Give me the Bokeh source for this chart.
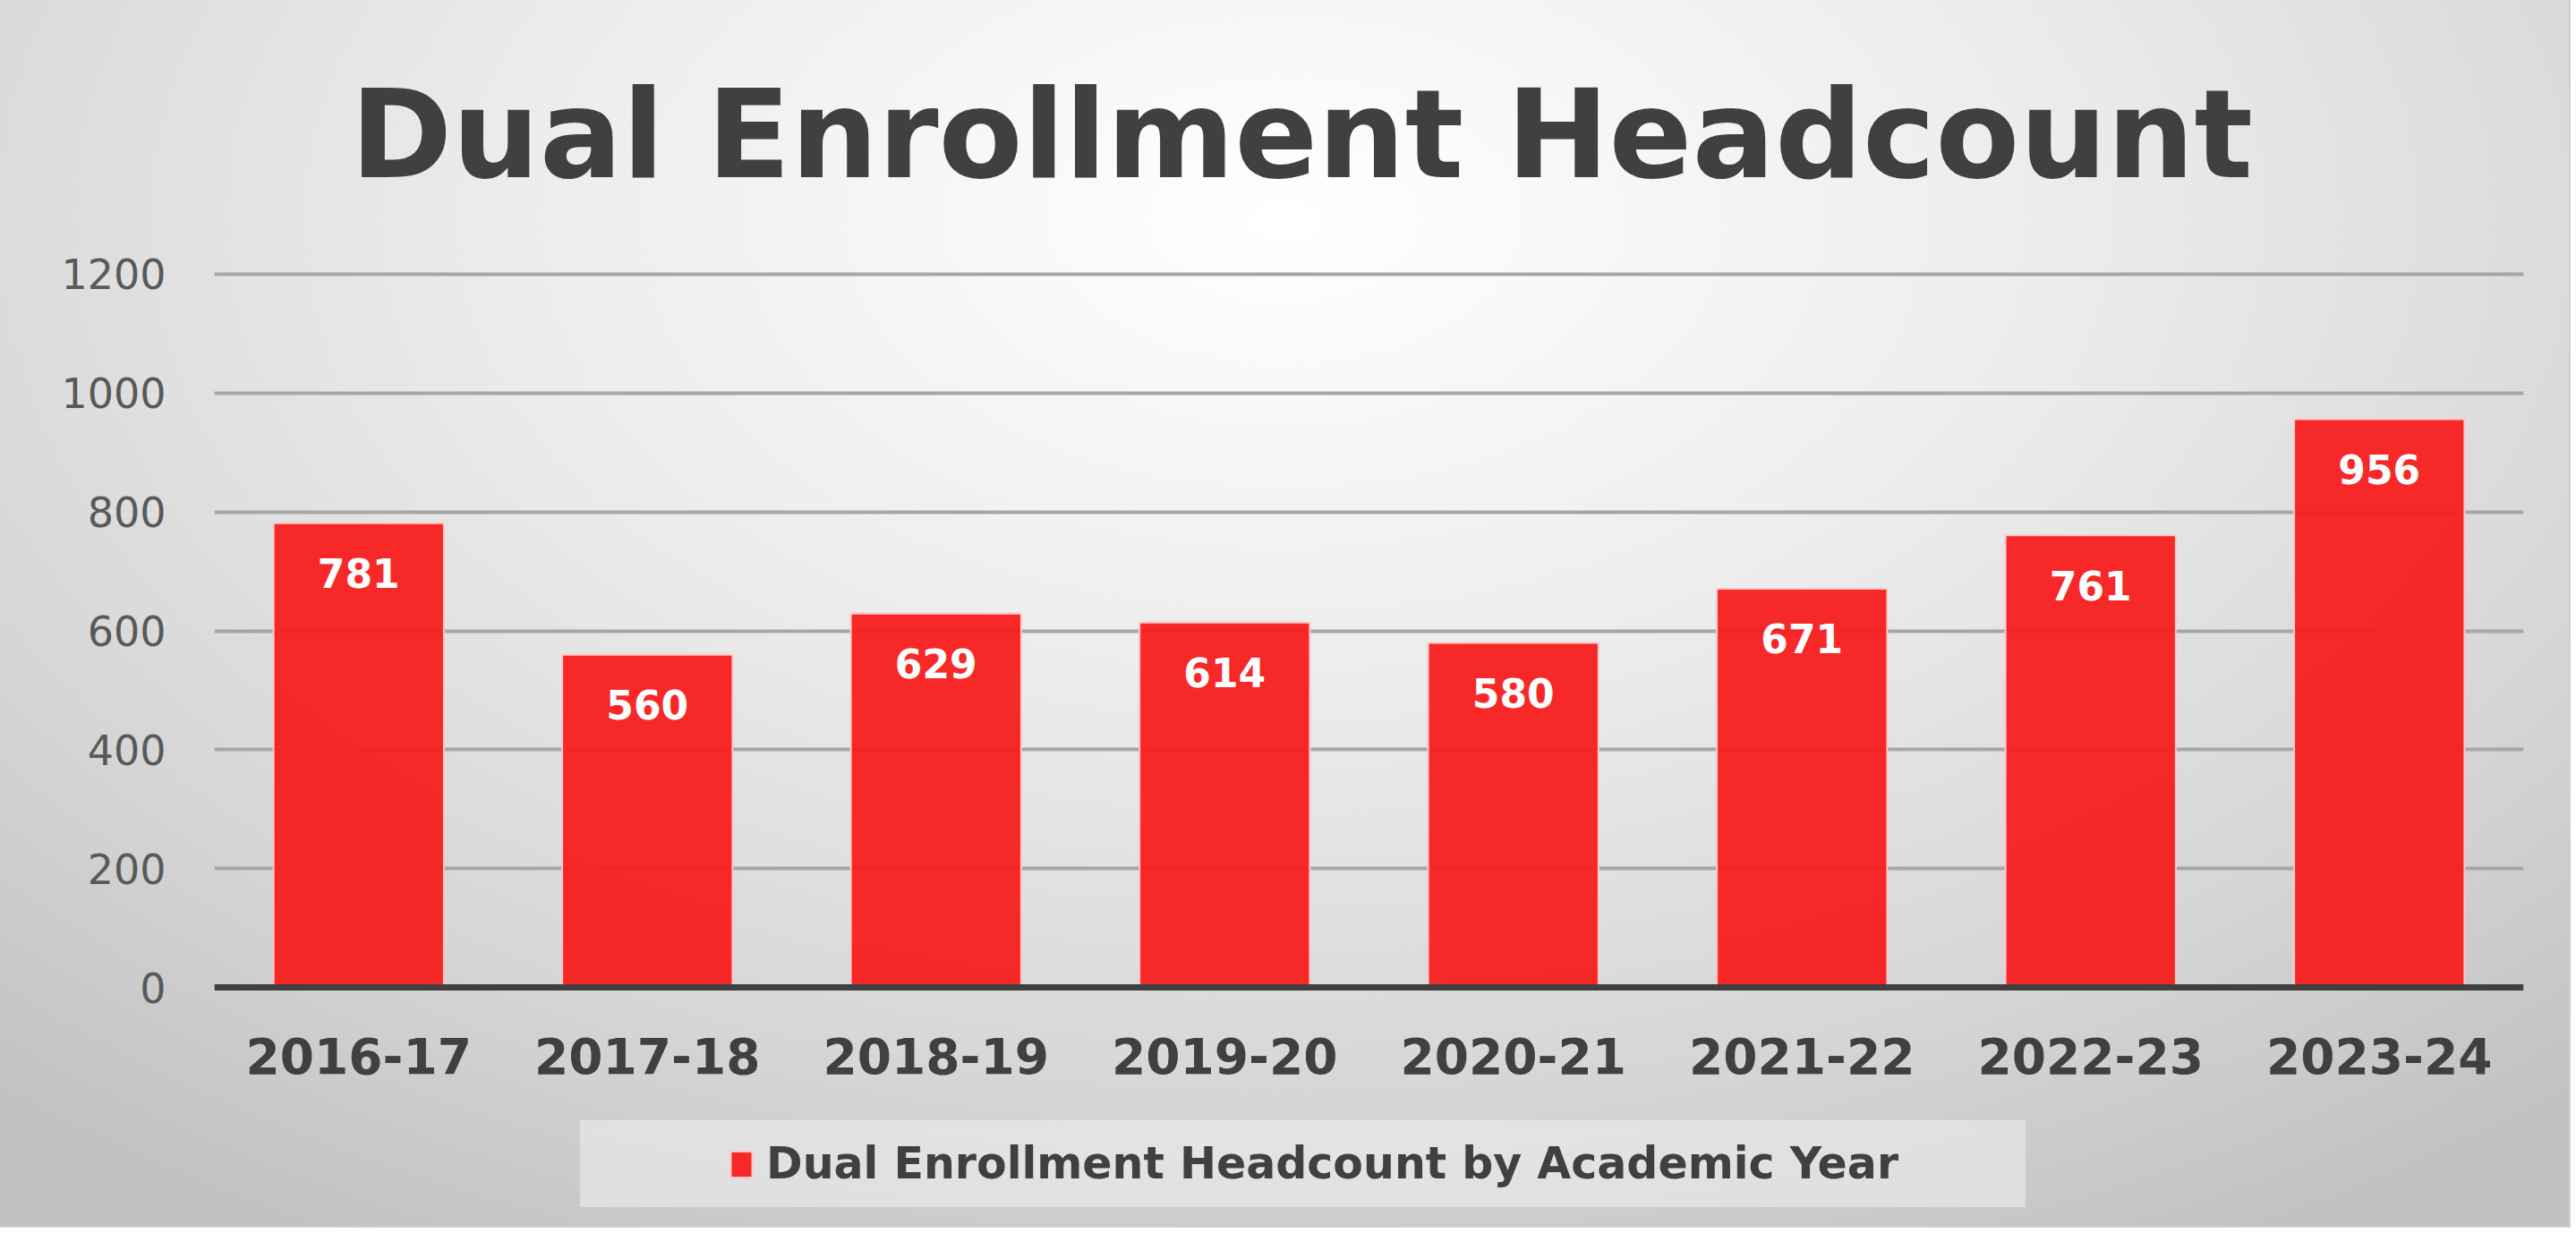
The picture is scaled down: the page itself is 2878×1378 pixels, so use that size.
from bokeh.plotting import figure
from bokeh.models import ColumnDataSource, FixedTicker, Legend, LegendItem
from bokeh.core.properties import value
from bokeh.embed import file_html
from bokeh.resources import INLINE

years = ["2016-17", "2017-18", "2018-19", "2019-20", "2020-21", "2021-22", "2022-23", "2023-24"]
headcount = [781, 560, 629, 614, 580, 671, 761, 956]
y_ticks = [0, 200, 400, 600, 800, 1000, 1200]
title_text = "Dual Enrollment Headcount"
series_name = "Dual Enrollment Headcount by Academic Year"

src = ColumnDataSource(dict(years=years, headcount=headcount,
                            labels=[str(v) for v in headcount]))

W, H = 2870, 1370
# frame spans down to the canvas bottom so the legend can sit inside it;
# the category axis is pinned at value 0
p = figure(x_range=years, y_range=(-401.5, 1212), width=W, height=H,
           output_backend="svg", toolbar_location=None,
           min_border_left=239, min_border_right=51,
           min_border_top=297, min_border_bottom=0)

p.styles = {
    "background-image": "radial-gradient(ellipse 75% 95% at 50% 18%, #ffffff 0%, #ececec 40%, #d6d6d6 75%, #c2c2c2 100%)",
    "outline": "2px solid #cfcfcf",
}
p.background_fill_color = None
p.border_fill_color = None
p.outline_line_color = None

# title
p.title.text = title_text
p.title.align = "left"
p.title.offset = 152
p.title.standoff = 137
p.title.vertical_align = "bottom"
p.title.text_font = "DejaVu Sans"
p.title.text_font_style = "bold"
p.title.text_font_size = "137px"
p.title.text_color = "#404040"

# grid
p.xgrid.grid_line_color = None
p.ygrid.ticker = FixedTicker(ticks=y_ticks)
p.ygrid.grid_line_color = "#a6a6a6"
p.ygrid.grid_line_width = 4

# y axis
p.yaxis.ticker = FixedTicker(ticks=y_ticks)
p.yaxis.axis_line_color = None
p.yaxis.major_tick_line_color = None
p.yaxis.minor_tick_line_color = None
p.yaxis.major_tick_out = 0
p.yaxis.major_label_standoff = 54
p.yaxis.major_label_text_font = "DejaVu Sans"
p.yaxis.major_label_text_font_size = "46px"
p.yaxis.major_label_text_color = "#595959"

# x axis
p.xaxis.fixed_location = 0
p.xaxis.axis_line_color = "#404040"
p.xaxis.axis_line_width = 7
p.xaxis.major_tick_line_color = None
p.xaxis.minor_tick_line_color = None
p.xaxis.major_tick_out = 0
p.xaxis.major_label_standoff = 56
p.xaxis.major_label_text_font = "DejaVu Sans"
p.xaxis.major_label_text_font_style = "bold"
p.xaxis.major_label_text_font_size = "55px"
p.xaxis.major_label_text_color = "#404040"

bars = p.vbar(x="years", top="headcount", width=0.59, source=src,
              fill_color="#F81D1D", fill_alpha=0.95,
              line_color="#FFC8C8", line_width=2)

p.text(x="years", y="headcount", text="labels", source=src,
       y_offset=56, text_align="center", text_baseline="middle",
       text_color="white", text_font=value("DejaVu Sans"),
       text_font_style="bold", text_font_size=value("44px"))

legend = Legend(items=[LegendItem(label=series_name, renderers=[bars])],
                location=(409, 21), orientation="horizontal",
                title=" ", title_location="left", title_text_font_size="1px",
                title_standoff=144,
                padding=20, margin=0, glyph_width=30, glyph_height=36,
                label_standoff=13, label_width=1387,
                label_text_font="DejaVu Sans", label_text_font_style="bold",
                label_text_font_size="49px", label_text_color="#404040",
                background_fill_color="#f4f4f4", background_fill_alpha=0.5,
                border_line_alpha=0)
p.add_layout(legend, "center")

open("out.html", "w").write(file_html(p, INLINE, title=title_text))
